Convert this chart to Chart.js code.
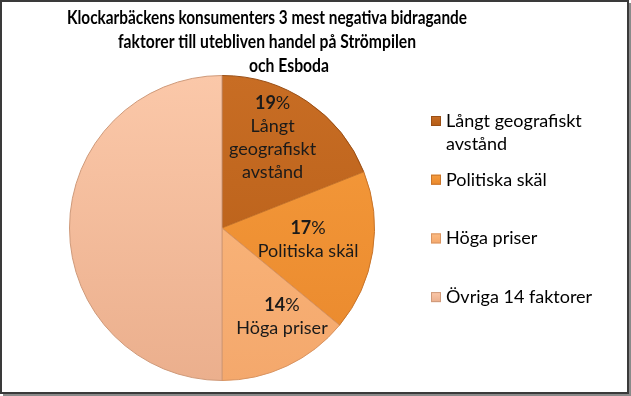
<!DOCTYPE html>
<html lang="sv">
<head>
  <meta charset="utf-8">
  <title>Klockarbäckens konsumenter</title>
  <script src="https://cdn.jsdelivr.net/npm/chart.js@4.4.1/dist/chart.umd.min.js"></script>
  <style>
    html, body { margin: 0; padding: 0; background: #fff; }
    canvas { display: block; }
  </style>
</head>
<body>
<canvas id="pieChart" width="631" height="396"></canvas>
<script>

// data
var titleLines = [
  'Klockarbäckens konsumenters 3 mest negativa bidragande',
  'faktorer till utebliven handel på Strömpilen',
  'och Esboda'
];
var categories = ['Långt geografiskt avstånd', 'Politiska skäl', 'Höga priser', 'Övriga 14 faktorer'];
var shares = [19, 17, 14, 50];
var showLabel = [true, true, true, false];

// top / bottom shade of each slice
var topColors = ['#c86d24', '#f69c3d', '#fcbb82', '#fbc8a9'];
var bottomColors = ['#b45c16', '#e9882c', '#f4a86c', '#ebaf8d'];
var edgeColors = ['#9a4f16', '#c8742a', '#d99461', '#cf9a7a'];

var FONT = 'Lato, "DejaVu Sans", sans-serif';

function sliceFill(context) {
  var chart = context.chart;
  var area = chart.chartArea;
  if (!area) return topColors[context.dataIndex];
  var g = chart.ctx.createLinearGradient(0, area.top, 0, area.bottom);
  g.addColorStop(0, topColors[context.dataIndex]);
  g.addColorStop(1, bottomColors[context.dataIndex]);
  return g;
}

function wrap(ctx, text, maxW) {
  var words = text.split(' ');
  var lines = [];
  var cur = '';
  for (var i = 0; i < words.length; i++) {
    var test = cur ? cur + ' ' + words[i] : words[i];
    if (cur && ctx.measureText(test).width > maxW) {
      lines.push(cur);
      cur = words[i];
    } else {
      cur = test;
    }
  }
  if (cur) lines.push(cur);
  return lines;
}

// frame, title and legend in the Excel look
var decorations = {
  id: 'decorations',
  beforeDraw: function(chart) {
    var ctx = chart.ctx;
    ctx.save();
    ctx.fillStyle = '#fff';
    ctx.fillRect(0, 0, chart.width, chart.height);
    ctx.restore();
  },
  afterDraw: function(chart) {
    var ctx = chart.ctx;
    ctx.save();

    // frame with a small shadow
    ctx.fillStyle = '#8a8a8a';
    ctx.fillRect(chart.width - 2, 3, 2, chart.height - 3);
    ctx.fillRect(3, chart.height - 2, chart.width - 3, 2);
    ctx.strokeStyle = '#3a3a3a';
    ctx.lineWidth = 2;
    ctx.strokeRect(1, 1, chart.width - 4, chart.height - 4);

    // title
    ctx.fillStyle = '#000';
    ctx.textAlign = 'center';
    ctx.textBaseline = 'middle';
    ctx.font = 'bold 19px ' + FONT;
    var titleX = [267, 267, 289];
    var titleY = [18, 42, 66];
    var titleW = [400, 298, 80];
    titleLines.forEach(function(line, i) {
      ctx.fillText(line, titleX[i], titleY[i], titleW[i]);
    });

    // legend
    var meta = chart.getDatasetMeta(0);
    ctx.font = '18px ' + FONT;
    ctx.textAlign = 'left';
    var legendY = 121;
    categories.forEach(function(name, i) {
      if (meta.data[i] && meta.data[i].hidden) return;
      var g = ctx.createLinearGradient(0, legendY - 5, 0, legendY + 5);
      g.addColorStop(0, topColors[i]);
      g.addColorStop(1, bottomColors[i]);
      ctx.fillStyle = g;
      ctx.fillRect(431, legendY - 5, 10, 10);
      ctx.strokeStyle = edgeColors[i];
      ctx.lineWidth = 1;
      ctx.strokeRect(431.5, legendY - 4.5, 9, 9);
      ctx.fillStyle = '#000';
      var lines = wrap(ctx, name, 165);
      lines.forEach(function(l, k) {
        ctx.fillText(l, 446, legendY + k * 23, 165);
      });
      legendY += 58.7;
    });

    ctx.restore();
  }
};

// percentage and category text inside the slices (placed like Excel's best fit)
var labelRadius = [0.68, 0.57, 0.70];
var labelTurn = [-5, -1, -9];
var sliceLabels = {
  id: 'sliceLabels',
  afterDatasetsDraw: function(chart) {
    var ctx = chart.ctx;
    var meta = chart.getDatasetMeta(0);
    var total = shares.reduce(function(a, b) { return a + b; }, 0);
    ctx.save();
    ctx.textBaseline = 'middle';
    ctx.fillStyle = '#1a1a1a';
    meta.data.forEach(function(arc, i) {
      if (!showLabel[i]) return;
      var p = arc.getProps(['x', 'y', 'startAngle', 'endAngle', 'outerRadius'], true);
      var mid = (p.startAngle + p.endAngle) / 2 + (labelTurn[i] || 0) * Math.PI / 180;
      var r = p.outerRadius * (labelRadius[i] || 0.62);
      var cx = p.x + Math.cos(mid) * r;
      var cy = p.y + Math.sin(mid) * r;

      ctx.font = '18px ' + FONT;
      var lines = wrap(ctx, categories[i], 125);
      var lh = 23;
      var n = lines.length + 1;
      var y0 = cy - (n - 1) * lh / 2;

      var num = String(Math.round(shares[i] / total * 100));
      ctx.font = 'bold 18px ' + FONT;
      var wNum = ctx.measureText(num).width;
      ctx.font = '18px ' + FONT;
      var wPct = ctx.measureText('%').width;
      var x0 = cx - (wNum + wPct) / 2;
      ctx.textAlign = 'left';
      ctx.font = 'bold 18px ' + FONT;
      ctx.fillText(num, x0, y0);
      ctx.font = '18px ' + FONT;
      ctx.fillText('%', x0 + wNum, y0);

      ctx.textAlign = 'center';
      lines.forEach(function(l, k) {
        ctx.fillText(l, cx, y0 + (k + 1) * lh);
      });
    });
    ctx.restore();
  }
};

var ctx = document.getElementById('pieChart').getContext('2d');
var chart = new Chart(ctx, {
  type: 'pie',
  data: {
    labels: categories,
    datasets: [{
      data: shares,
      backgroundColor: sliceFill,
      borderColor: edgeColors,
      borderWidth: 1
    }]
  },
  options: {
    responsive: false,
    animation: false,
    devicePixelRatio: 1,
    layout: {
      padding: { left: 69, right: 256, top: 75, bottom: 15 }
    },
    plugins: {
      legend: { display: false },
      title: { display: false },
      tooltip: { enabled: false }
    }
  },
  plugins: [decorations, sliceLabels]
});

</script>
</body>
</html>
